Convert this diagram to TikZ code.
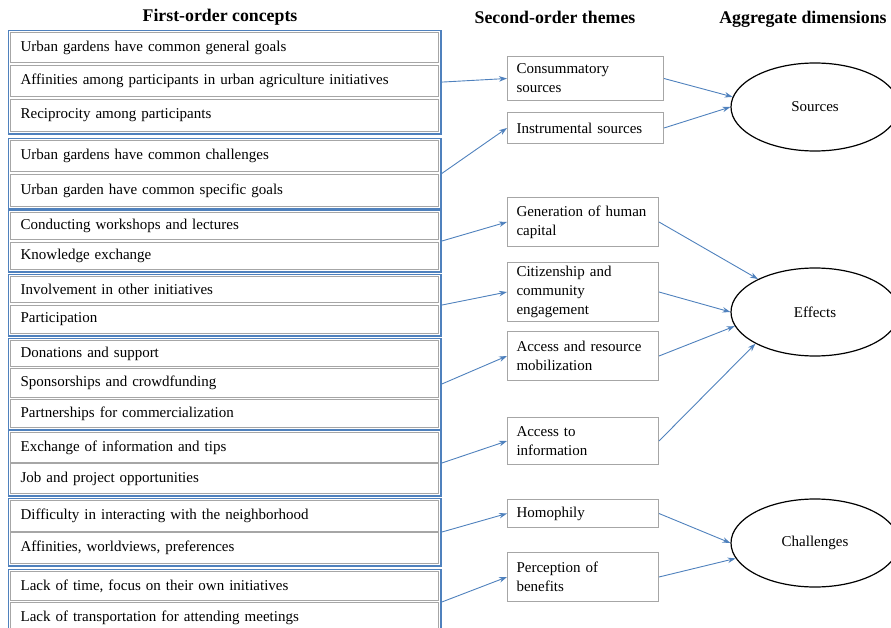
\documentclass[tikz,border=0pt]{standalone}
\usepackage{fontspec}
\setmainfont{Liberation Serif}
\usetikzlibrary{positioning, arrows.meta, shapes.geometric, fit}
\definecolor{grpblue}{HTML}{4F81BD}
\definecolor{boxgray}{HTML}{A6A6A6}

\begin{document}
\begin{tikzpicture}[x=1pt, y=-1pt,
	every node/.style={font=\fontsize{15}{19}\selectfont},
	head/.style={font=\fontsize{17.8}{20}\selectfont\bfseries},
	concept/.style={draw=boxgray, line width=1.2pt, anchor=north west, text width=408pt, inner xsep=10pt, inner ysep=0pt, align=left},
	theme/.style={draw=boxgray, line width=1pt, anchor=north west, text width=133pt, inner xsep=9pt, inner ysep=0pt, align=left},
	group/.style={draw=grpblue, line width=1.8pt, inner sep=1.5pt},
	dim/.style={draw, ellipse, line width=1.2pt, minimum width=168pt, minimum height=88pt},
	arr/.style={grpblue, line width=0.9pt, -{Stealth[length=8pt, width=5.5pt]}}]
	\useasboundingbox (0,0) rectangle (891,628);
	% column titles
	\node[head] (h_1) at (220,17) {First-order concepts};
	\node[head] (h_2) at (555,17) {Second-order themes};
	\node[head] (h_3) at (803,19) {Aggregate dimensions};
	% first-order concepts
	\node[concept, minimum height=30pt] (c_1) at (10,32) {Urban gardens have common general goals};
	\node[concept, minimum height=31pt] (c_2) at (10,65) {Affinities among participants in urban agriculture initiatives};
	\node[concept, minimum height=32pt] (c_3) at (10,99) {Reciprocity among participants};
	\node[concept, minimum height=31pt] (c_4) at (10,140) {Urban gardens have common challenges};
	\node[concept, minimum height=32pt] (c_5) at (10,174) {Urban garden have common specific goals};
	\node[concept, minimum height=27pt] (c_6) at (10,212) {Conducting workshops and lectures};
	\node[concept, minimum height=27pt] (c_7) at (10,242) {Knowledge exchange};
	\node[concept, minimum height=26pt] (c_8) at (10,276) {Involvement in other initiatives};
	\node[concept, minimum height=28pt] (c_9) at (10,305) {Participation};
	\node[concept, minimum height=26pt] (c_10) at (10,340) {Donations and support};
	\node[concept, minimum height=29pt] (c_11) at (10,368) {Sponsorships and crowdfunding};
	\node[concept, minimum height=28pt] (c_12) at (10,399) {Partnerships for commercialization};
	\node[concept, minimum height=30pt] (c_13) at (10,432) {Exchange of information and tips};
	\node[concept, minimum height=30pt] (c_14) at (10,463) {Job and project opportunities};
	\node[concept, minimum height=31pt] (c_15) at (10,500) {Difficulty in interacting with the neighborhood};
	\node[concept, minimum height=31pt] (c_16) at (10,532) {Affinities, worldviews, preferences};
	\node[concept, minimum height=29pt] (c_17) at (10,571) {Lack of time, focus on their own initiatives};
	\node[concept, minimum height=30pt] (c_18) at (10,602) {Lack of transportation for attending meetings};
	% groups of concepts
	\node[group, fit=(c_1)(c_3)] (g_1) {};
	\node[group, fit=(c_4)(c_5)] (g_2) {};
	\node[group, fit=(c_6)(c_7)] (g_3) {};
	\node[group, fit=(c_8)(c_9)] (g_4) {};
	\node[group, fit=(c_10)(c_12)] (g_5) {};
	\node[group, fit=(c_13)(c_14)] (g_6) {};
	\node[group, fit=(c_15)(c_16)] (g_7) {};
	\node[group, fit=(c_17)(c_18)] (g_8) {};
	% second-order themes
	\node[theme, text width=138pt, minimum height=44pt] (t_1) at (507,56) {Consummatory\\sources};
	\node[theme, text width=138pt, minimum height=31pt] (t_2) at (507,112) {Instrumental sources};
	\node[theme, minimum height=49pt] (t_3) at (507,197) {Generation of human\\capital};
	\node[theme, minimum height=59pt, inner ysep=2pt] (t_4) at (507,262) {Citizenship and\\community\\engagement};
	\node[theme, minimum height=49pt] (t_5) at (507,331) {Access and resource\\mobilization};
	\node[theme, minimum height=47pt] (t_6) at (507,417) {Access to\\information};
	\node[theme, minimum height=28pt] (t_7) at (507,499) {Homophily};
	\node[theme, minimum height=49pt] (t_8) at (507,552) {Perception of\\benefits};
	% aggregate dimensions
	\node[dim] (d_1) at (815,107) {Sources};
	\node[dim] (d_2) at (815,312) {Effects};
	\node[dim] (d_3) at (815,543) {Challenges};
	\path[arr]
	(g_1.east) edge (t_1.west)
	(g_2.east) edge (t_2.west)
	(g_3.east) edge (t_3.west)
	(g_4.east) edge (t_4.west)
	(g_5.east) edge (t_5.west)
	(g_6.east) edge (t_6.west)
	(g_7.east) edge (t_7.west)
	(g_8.east) edge (t_8.west)
	(t_1.east) edge (d_1.173)
	(t_2.east) edge (d_1.180)
	(t_3.east) edge (d_2.150)
	(t_4.east) edge (d_2.180)
	(t_5.east) edge (d_2.190)
	(t_6.east) edge (d_2.208)
	(t_7.east) edge (d_3.180)
	(t_8.east) edge (d_3.191)
	;
\end{tikzpicture}
\end{document}
